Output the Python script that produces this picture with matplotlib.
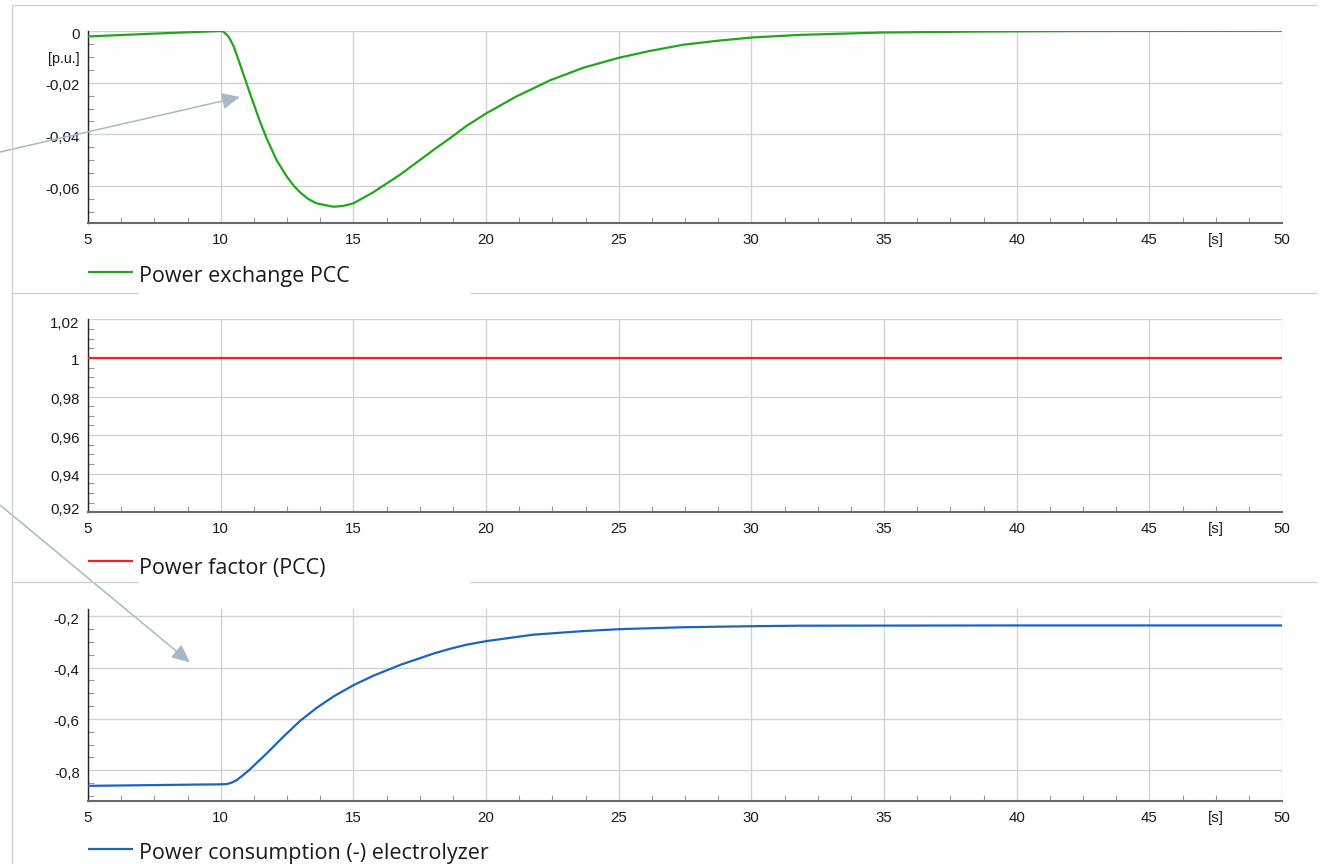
import matplotlib
matplotlib.use("Agg")
import matplotlib.pyplot as plt
import matplotlib.transforms as mtransforms
from matplotlib.ticker import MultipleLocator, FixedLocator, FuncFormatter
from matplotlib.patches import FancyArrowPatch

# ---------------- data ----------------
t_pcc = [5.0, 7.5, 10.0, 10.1, 10.3, 10.48, 10.65, 10.86, 11.1, 11.48, 11.73, 12.11, 12.49,
         12.75, 12.99, 13.3, 13.62, 14.25, 14.6, 15.0, 15.75, 16.76, 18.01, 18.64, 19.27,
         20.02, 21.15, 22.41, 23.67, 25.03, 26.18, 27.44, 28.7, 30.03, 31.83, 34.85, 38.6,
         42.4, 50.0]
p_pcc = [-0.0021, -0.0010, 0.0000, -0.0002, -0.0022, -0.0057, -0.0105, -0.0168, -0.0240,
         -0.0350, -0.0415, -0.0500, -0.0563, -0.0598, -0.0624, -0.0650, -0.0667, -0.0680,
         -0.0677, -0.0667, -0.0624, -0.0556, -0.0461, -0.0415, -0.0367, -0.0318, -0.0253,
         -0.0191, -0.0142, -0.0103, -0.0077, -0.0053, -0.0038, -0.0025, -0.0015, -0.0006,
         -0.0002, 0.0000, 0.0001]

t_pf = [5.0, 50.0]
pf = [1.0, 1.0]

t_el = [5.0, 7.5, 10.0, 10.23, 10.4, 10.6, 10.8, 11.1, 11.73, 12.36, 12.99, 13.62, 14.25,
        15.0, 15.75, 16.76, 18.01, 18.64, 19.27, 20.02, 21.78, 23.67, 25.03, 27.44, 30.03,
        31.83, 40.0, 50.0]
p_el = [-0.861, -0.858, -0.855, -0.854, -0.849, -0.839, -0.823, -0.797, -0.735, -0.670,
        -0.608, -0.557, -0.513, -0.469, -0.432, -0.390, -0.346, -0.327, -0.311, -0.297,
        -0.272, -0.258, -0.2505, -0.243, -0.239, -0.237, -0.236, -0.236]

labels = ["Power exchange PCC", "Power factor (PCC)", "Power consumption (-) electrolyzer"]
colors = ["#1fa81a", "#f02222", "#1a64c4"]
x_ticks = [5, 10, 15, 20, 25, 30, 35, 40, 45, 50]
y_ticks = [[0.0, -0.02, -0.04, -0.06],
           [0.92, 0.94, 0.96, 0.98, 1.0, 1.02],
           [-0.8, -0.6, -0.4, -0.2]]
y_minor = [0.005, 0.005, 0.05]
y_lims = [(-0.0744, 0.0002), (0.92, 1.02), (-0.92, -0.17)]

# ---------------- figure ----------------
W, H = 1321, 864
fig = plt.figure(figsize=(W / 100, H / 100), dpi=100)
fig.patch.set_facecolor("white")

def ax_px(left, top, right, bottom):
    return fig.add_axes([left / W, 1 - bottom / H, (right - left) / W, (bottom - top) / H])

boxes = [(88, 30.5, 1282, 223.3), (88, 319.3, 1282, 512.3), (88, 608.5, 1282, 801)]
series = [(t_pcc, p_pcc), (t_pf, pf), (t_el, p_el)]

def fmt(v, pos=None):
    if abs(v) < 1e-12:
        return "0"
    return f"{v:.10g}".replace(".", ",")

tick_font = dict(family="Liberation Sans", size=10.8)
XPAD = 7.0

axes = []
for i, (box, (tx, vy)) in enumerate(zip(boxes, series)):
    ax = ax_px(*box)
    axes.append(ax)
    ax.plot(tx, vy, color=colors[i], lw=1.6, solid_capstyle="butt", solid_joinstyle="round",
            zorder=3)
    ax.set_xlim(5, 50)
    ax.set_ylim(*y_lims[i])
    ax.xaxis.set_major_locator(FixedLocator(x_ticks))
    ax.xaxis.set_minor_locator(MultipleLocator(1.25))
    ax.yaxis.set_major_locator(FixedLocator(y_ticks[i]))
    ax.yaxis.set_minor_locator(MultipleLocator(y_minor[i]))
    ax.xaxis.set_major_formatter(FuncFormatter(fmt))
    ax.yaxis.set_major_formatter(FuncFormatter(fmt))
    ax.set_axisbelow(True)
    ax.grid(True, which="major", color="#d2d2d2", lw=1.0)
    for s in ("top", "right"):
        ax.spines[s].set_visible(False)
    ax.spines["left"].set_color("#222222")
    ax.spines["left"].set_linewidth(1.0)
    ax.spines["bottom"].set_color("#6a6a6a")
    ax.spines["bottom"].set_linewidth(1.5)
    ax.tick_params(which="major", length=0, labelcolor="#1a1a1a")
    ax.tick_params(axis="x", which="major", pad=XPAD)
    ax.tick_params(axis="y", which="major", pad=6.0)
    ax.tick_params(which="minor", direction="in", length=4.3, width=0.8, color="#9a9a9a")
    for lab in ax.get_xticklabels() + ax.get_yticklabels():
        lab.set_fontfamily(tick_font["family"])
        lab.set_fontsize(tick_font["size"])
    # y labels sit slightly below their gridlines, clamped inside the axis range
    ylo, yhi = y_lims[i]
    for tv, lab in zip(y_ticks[i], ax.get_yticklabels()):
        dy = -2.0
        if abs(tv - ylo) < 1e-9:
            dy = 4.0
        elif abs(tv - yhi) < 1e-9 and i == 1:
            dy = -3.0
        lab.set_transform(lab.get_transform() +
                          mtransforms.ScaledTranslation(0, dy / 100, fig.dpi_scale_trans))
    ax.annotate("[s]", xy=(47.5, 0), xycoords=ax.get_xaxis_transform(),
                xytext=(0, -XPAD), textcoords="offset points", ha="center", va="top",
                color="#1a1a1a", **tick_font)

axes[0].annotate("[p.u.]", xy=(0, -0.0108), xycoords=axes[0].get_yaxis_transform(),
                 xytext=(-6.0, 0), textcoords="offset points", ha="right", va="center",
                 color="#1a1a1a", family="Liberation Sans", size=10.3)

# ---------------- overlay: separators, legends, arrows ----------------
ov = fig.add_axes([0, 0, 1, 1])
ov.set_xlim(0, W)
ov.set_ylim(H, 0)
ov.axis("off")
ov.patch.set_alpha(0)
ov.set_zorder(10)

sep = dict(color="#cfcfcf", lw=0.9, solid_capstyle="butt")
ov.plot([12, 1317], [5, 5], **sep)
ov.plot([12, 12], [5, 864], **sep)
for y in (293, 582):
    ov.plot([12, 138], [y, y], **sep)
    ov.plot([470, 1317], [y, y], **sep)

leg_line_y = [271.7, 560.7, 849.3]
leg_base_y = [282.3, 574.0, 858.5]
for i in range(3):
    ov.plot([88, 133], [leg_line_y[i]] * 2, color=colors[i], lw=1.6, solid_capstyle="butt")
    ov.text(139, leg_base_y[i], labels[i], ha="left", va="baseline",
            family="Open Sans", size=15.5, color="#1a1a1a")

arrow_col = "#a7b9c6"
for (p0, p1) in [((0, 152), (240, 97)), ((0, 505), (190, 662.5))]:
    ov.add_patch(FancyArrowPatch(p0, p1, arrowstyle="-|>,head_length=1.1,head_width=0.5",
                                 mutation_scale=10, color=arrow_col, lw=1.1,
                                 shrinkA=0, shrinkB=0))

fig.savefig("out.png", dpi=100, facecolor="white")
